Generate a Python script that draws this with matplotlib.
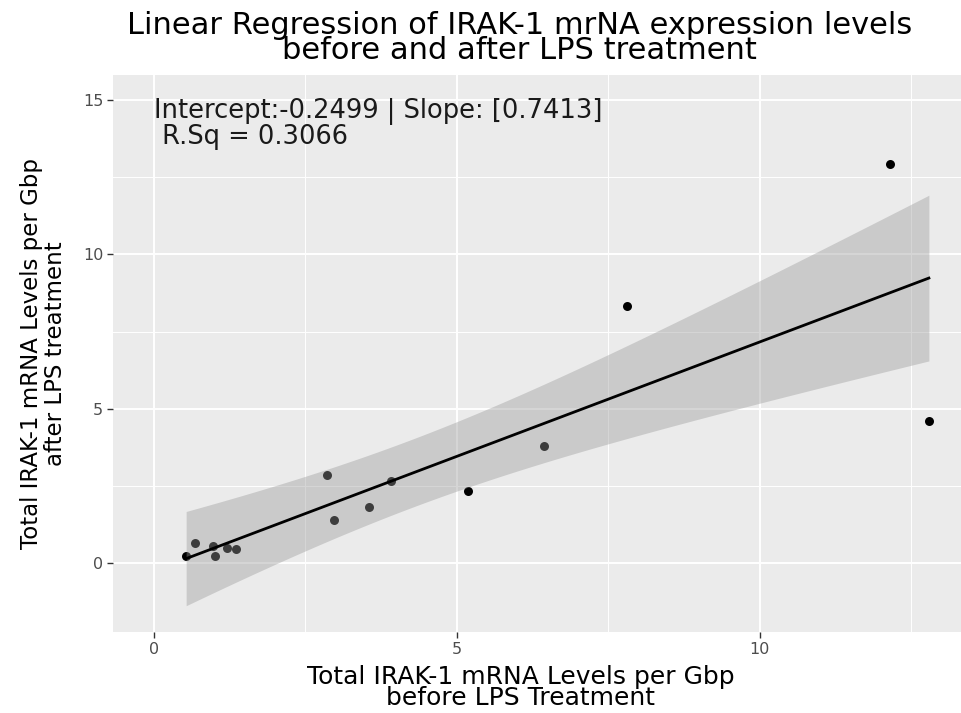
import numpy as np
import matplotlib
matplotlib.use("Agg")
import matplotlib.pyplot as plt
from matplotlib.ticker import MultipleLocator

# IRAK-1 mRNA levels per Gbp, before vs after LPS
before = [0.53, 0.68, 0.97, 1.00, 1.20, 1.35, 2.85, 2.97, 3.55, 3.91, 5.18, 6.44, 7.80, 12.15, 12.79]
after = [0.23, 0.65, 0.55, 0.23, 0.49, 0.45, 2.85, 1.39, 1.81, 2.65, 2.33, 3.79, 8.32, 12.94, 4.60]

intercept = -0.2499
slope = 0.7413
r_sq = 0.3066

x = np.array(before)
y = np.array(after)
n = len(x)

# 95% confidence band for the fitted mean
xs = np.linspace(x.min(), x.max(), 200)
fit = intercept + slope * xs
resid = y - (intercept + slope * x)
s = np.sqrt(np.sum(resid ** 2) / (n - 2))
sxx = np.sum((x - x.mean()) ** 2)
t975 = 2.1604  # t quantile, df = 13
half = t975 * s * np.sqrt(1 / n + (xs - x.mean()) ** 2 / sxx)

fig = plt.figure(figsize=(9.61, 7.13), dpi=100)
ax = fig.add_axes([0.1176, 0.1136, 0.8824, 0.7812])
ax.set_facecolor("#EBEBEB")
for sp in ax.spines.values():
    sp.set_visible(False)

ax.set_xlim(-0.677, 13.32)
ax.set_ylim(-2.235, 15.81)
ax.xaxis.set_major_locator(MultipleLocator(5))
ax.yaxis.set_major_locator(MultipleLocator(5))
ax.xaxis.set_minor_locator(MultipleLocator(2.5))
ax.yaxis.set_minor_locator(MultipleLocator(2.5))
ax.grid(which="major", color="white", linewidth=1.4)
ax.grid(which="minor", color="white", linewidth=0.7)
ax.set_axisbelow(True)
ax.tick_params(which="major", length=4, width=1, color="#333333",
               labelcolor="#4D4D4D", labelsize=11.5, pad=3)
ax.tick_params(which="minor", length=0)

ax.scatter(x, y, s=42, color="black", zorder=2, linewidths=0)
ax.fill_between(xs, fit - half, fit + half, color="#999999", alpha=0.4,
                linewidth=0, zorder=3)
ax.plot(xs, fit, color="black", linewidth=2, zorder=4)

ax.text(0.0, 15.05, f"Intercept:{intercept} | Slope: [{slope}]\n R.Sq = {r_sq}",
        fontsize=18.5, va="top", ha="left", linespacing=0.95, color="#1A1A1A")

ax.set_xlabel("Total IRAK-1 mRNA Levels per Gbp\nbefore LPS Treatment",
              fontsize=18, linespacing=0.82)
ax.xaxis.set_label_coords(0.481, -0.06, transform=ax.transAxes)
ax.xaxis.label.set_va("top")
ax.set_ylabel("Total IRAK-1 mRNA Levels per Gbp\nafter LPS treatment",
              fontsize=16.5, linespacing=1.05)
ax.yaxis.set_label_coords(-0.054, 0.5, transform=ax.transAxes)

fig.text(0.541, 0.985, "Linear Regression of IRAK-1 mrNA expression levels\nbefore and after LPS treatment",
         fontsize=22, ha="center", va="top", multialignment="center", linespacing=0.84)

fig.savefig("out.png", dpi=100)
